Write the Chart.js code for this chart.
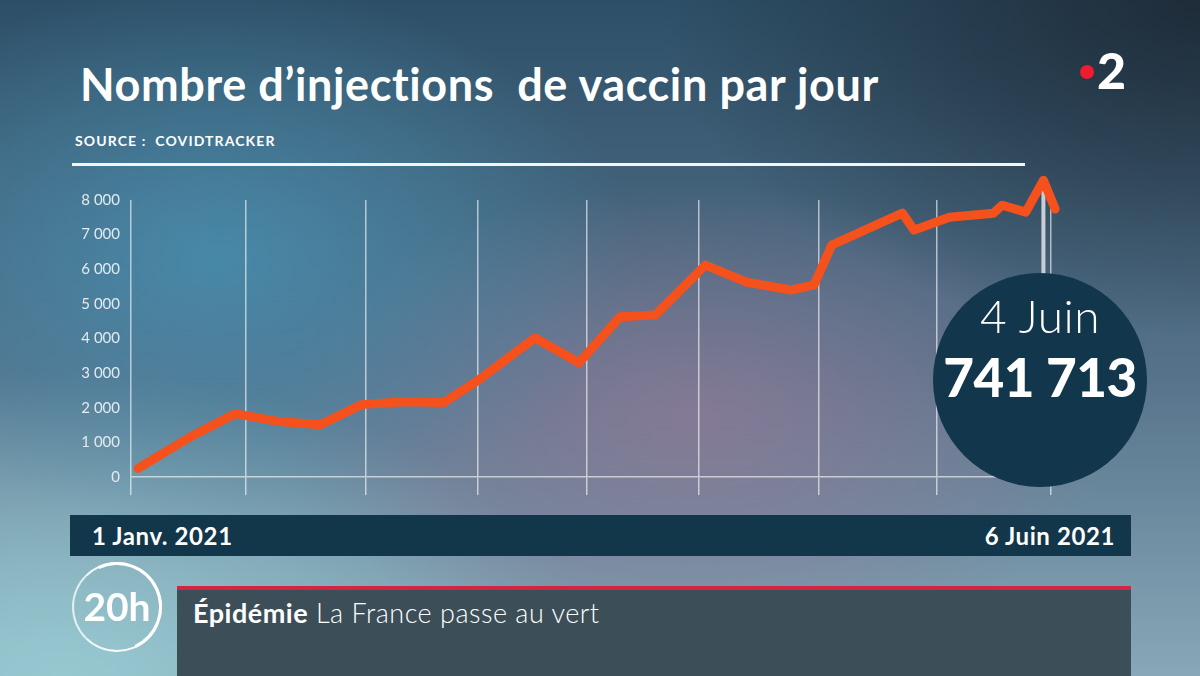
<!DOCTYPE html>
<html>
<head>
<meta charset="utf-8">
<script src="https://cdn.jsdelivr.net/npm/chart.js@4.4.0/dist/chart.umd.min.js"></script>
<style>
  html, body { margin: 0; padding: 0; }
  body {
    width: 1200px; height: 676px; overflow: hidden; position: relative;
    font-family: Lato, "Open Sans", sans-serif; color: #fff;
    background:
      radial-gradient(ellipse 45% 50% at 100% 0%, rgba(30,42,54,0.95), rgba(30,42,54,0) 100%),
      radial-gradient(ellipse 35% 40% at 18% 38%, rgba(72,140,172,0.9), rgba(72,140,172,0) 100%),
      radial-gradient(ellipse 35% 35% at 58% 62%, rgba(140,122,150,0.85), rgba(140,122,150,0) 100%),
      radial-gradient(ellipse 45% 45% at 5% 100%, rgba(150,200,208,1), rgba(150,200,208,0) 100%),
      linear-gradient(to bottom, #2d5068 0%, #55728a 55%, #88a8b8 100%);
  }
  .abs { position: absolute; }
  #title { left: 80px; top: 57px; font-size: 45px; font-weight: 700; letter-spacing: 0.6px; white-space: pre; }
  #source { left: 75px; top: 132px; font-size: 14px; font-weight: 700; letter-spacing: 1.1px; white-space: pre; }
  #rule { left: 72px; top: 163px; width: 953px; height: 3px; background: #f2f5f7; }
  #logo-dot { left: 1080px; top: 65px; width: 14px; height: 14px; border-radius: 50%; background: #ee1c2e; }
  #logo-2 { left: 1097px; top: 40px; font-size: 50px; font-weight: 900; }
  #chart-wrap { left: 0; top: 0; width: 1200px; height: 676px; }
  #bubble { left: 933px; top: 273px; width: 214px; height: 214px; border-radius: 50%; background: #12364b; text-align: center; }
  #bubble .d { position: absolute; left: 0; right: 0; top: 15px; font-size: 46px; font-weight: 300; letter-spacing: 0.5px; }
  #bubble .v { position: absolute; left: 0; right: 0; top: 72px; font-size: 53px; font-weight: 900; letter-spacing: -0.5px; }
  #datebar { left: 70px; top: 515px; width: 1061px; height: 41px; background: #12364a; }
  #datebar span { position: absolute; top: 6px; font-size: 24px; font-weight: 700; letter-spacing: 0.6px; }
  #ring { left: 72px; top: 562px; width: 86px; height: 86px; border-radius: 50%; border: 2px solid rgba(255,255,255,0.9); border-left-color: rgba(255,255,255,0.75); }
  #ring-thick { left: 72px; top: 562px; width: 84px; height: 84px; border-radius: 50%; border: 3px solid transparent; border-right-color: #fff; border-top-color: #fff; transform: rotate(20deg); }
  #twenty { left: 72px; top: 583px; width: 90px; text-align: center; font-size: 39px; font-weight: 700; }
  #banner { left: 177px; top: 586px; width: 954px; height: 90px; background: #3c4f59; border-top: 4px solid #d22541; box-sizing: border-box; }
  #banner div { position: absolute; left: 16px; top: 6px; font-size: 27px; font-weight: 300; letter-spacing: 0.5px; }
</style>
</head>
<body>
<div id="title" class="abs">Nombre d’injections  de vaccin par jour</div>
<div id="source" class="abs">SOURCE :  COVIDTRACKER</div>
<div id="rule" class="abs"></div>
<div id="logo-dot" class="abs"></div>
<div id="logo-2" class="abs">2</div>

<div id="chart-wrap" class="abs"><canvas id="line"></canvas></div>

<div id="bubble" class="abs"><div class="d">4 Juin</div><div class="v">741 713</div></div>

<div id="datebar" class="abs"><span style="left:22px">1 Janv. 2021</span><span style="right:16px">6 Juin 2021</span></div>

<div id="ring" class="abs"></div>
<div id="ring-thick" class="abs"></div>
<div id="twenty" class="abs">20h</div>
<div id="banner" class="abs"><div><b style="font-weight:700">Épidémie</b> La France passe au vert</div></div>

<script>
// jours depuis le 1er janvier 2021
var days = [0, 9, 16.5, 24, 31, 38, 45, 52, 58, 67.5, 75, 82, 88, 96.5, 103.5, 111, 115, 118, 130, 132, 138, 145.5, 147, 151, 154, 156];
var injections = [250, 1170, 1830, 1600, 1510, 2090, 2170, 2150, 2810, 4020, 3300, 4630, 4680, 6120, 5630, 5400, 5550, 6700, 7620, 7130, 7500, 7620, 7850, 7650, 8570, 7740];
var gridDays = [-1.2, 18.4, 38.8, 57.7, 76.4, 95.4, 115.8, 135.9, 155.3];
var yTicks = [0, 1000, 2000, 3000, 4000, 5000, 6000, 7000, 8000];
var highlightDay = 154;

function fmt(v) {
    if (v === 0) return '0';
    return Math.floor(v / 1000) + ' 000';
}

var points = [];
for (var i = 0; i < days.length; i++) {
    points.push({x: days[i], y: injections[i]});
}

// trait gris du 4 juin
var markerPlugin = {
    id: 'marker',
    beforeDatasetsDraw: function (chart) {
        var xs = chart.scales.x, ys = chart.scales.y;
        var idx = days.indexOf(highlightDay);
        var x = xs.getPixelForValue(highlightDay);
        var ctx = chart.ctx;
        ctx.save();
        ctx.strokeStyle = '#c9ced6';
        ctx.lineWidth = 4;
        ctx.beginPath();
        ctx.moveTo(x, ys.getPixelForValue(injections[idx]));
        ctx.lineTo(x, ys.bottom);
        ctx.stroke();
        ctx.restore();
    }
};

var ctx = document.getElementById('line').getContext('2d');
var chart = new Chart(ctx, {
    type: 'line',
    data: {
        datasets: [{
            data: points,
            borderColor: '#f4511c',
            borderWidth: 9,
            pointRadius: 0,
            tension: 0,
            borderJoinStyle: 'round',
            borderCapStyle: 'round',
            clip: false
        }]
    },
    options: {
        responsive: true,
        maintainAspectRatio: false,
        animation: false,
        events: [],
        layout: { padding: { left: 0, top: 200, right: 136, bottom: 181 } },
        plugins: { legend: { display: false }, tooltip: { enabled: false } },
        scales: {
            x: {
                type: 'linear',
                min: -1.2,
                max: 157.5,
                afterBuildTicks: function (scale) {
                    scale.ticks = gridDays.map(function (d) { return {value: d}; });
                },
                ticks: { display: false },
                grid: { color: 'rgba(255,255,255,0.6)', lineWidth: 1.5, tickLength: 18 },
                border: { display: true, color: 'rgba(255,255,255,0.6)', width: 1.5 }
            },
            y: {
                min: 0,
                max: 8000,
                afterBuildTicks: function (scale) {
                    scale.ticks = yTicks.map(function (v) { return {value: v}; });
                },
                afterFit: function (scale) { scale.width = 131; },
                ticks: {
                    color: '#e2ebef',
                    padding: 11,
                    font: { family: 'Lato', size: 15 },
                    callback: function (v) { return fmt(v); }
                },
                grid: { display: false, drawTicks: false },
                border: { display: false }
            }
        }
    },
    plugins: [markerPlugin]
});
</script>
</body>
</html>
